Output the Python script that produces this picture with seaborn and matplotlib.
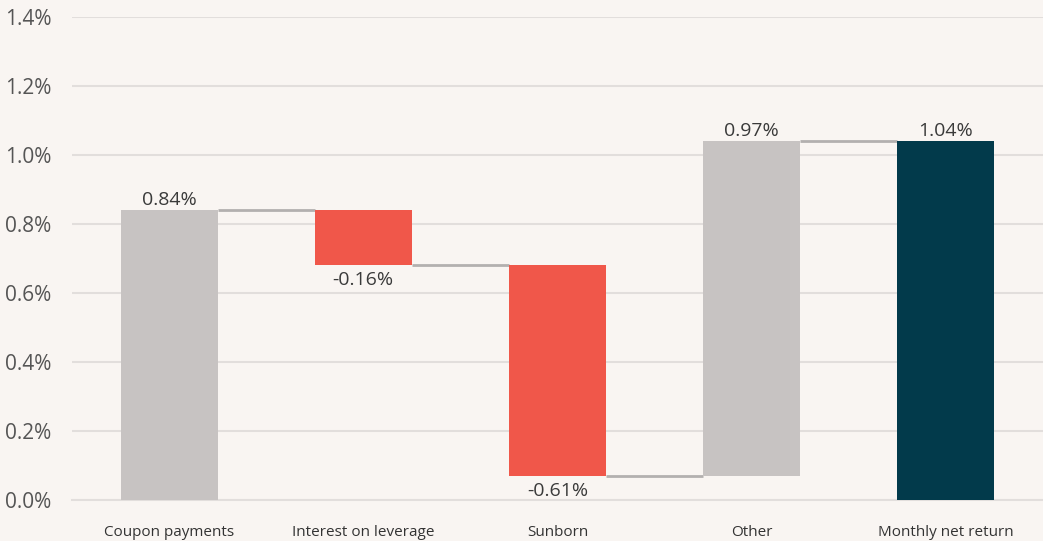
import numpy as np
import pandas as pd
import matplotlib
matplotlib.use("Agg")
import matplotlib.pyplot as plt
import seaborn as sns

categories = ["Coupon payments", "Interest on leverage", "Sunborn", "Other", "Monthly net return"]
changes = [0.84, -0.16, -0.61, 0.97, 1.04]
labels = ["0.84%", "-0.16%", "-0.61%", "0.97%", "1.04%"]
is_total = [False, False, False, False, True]
y_ticks = [0.0, 0.2, 0.4, 0.6, 0.8, 1.0, 1.2, 1.4]

BG = "#F9F5F2"
GREY = "#C7C3C2"
RED = "#F0574A"
DARK = "#023A4B"
GRID = "#E2DEDC"

# running totals for the waterfall
bottoms, tops, colours = [], [], []
running = 0.0
for ch, tot in zip(changes, is_total):
    if tot:
        bottoms.append(0.0)
        tops.append(ch)
        colours.append(DARK)
        running = ch
    else:
        start = running
        running = round(running + ch, 4)
        bottoms.append(min(start, running))
        tops.append(max(start, running))
        colours.append(GREY if ch >= 0 else RED)

df = pd.DataFrame({"category": categories,
                   "height": np.array(tops) - np.array(bottoms),
                   "bottom": bottoms})

sns.set_style("white")
plt.rcParams["font.family"] = ["Open Sans", "DejaVu Sans"]

fig = plt.figure(figsize=(10.43, 5.41), dpi=100, facecolor=BG)
ax = fig.add_axes([0.069, 0.076, 0.931, 0.893])
ax.set_facecolor(BG)

sns.barplot(data=df, x="category", y="height", bottom=df["bottom"].values,
            width=0.5, color=GREY, ax=ax, zorder=3, linewidth=0)
bars = ax.patches
for p, c in zip(bars, colours):
    p.set_facecolor(c)

# connectors between bars
levels = []
running = 0.0
for ch, tot in zip(changes, is_total):
    running = ch if tot else running + ch
    levels.append(running)
for i in range(len(bars) - 1):
    x0 = bars[i].get_x() + bars[i].get_width()
    x1 = bars[i + 1].get_x()
    ax.plot([x0, x1], [levels[i], levels[i]], color="#B3B0AF", lw=2, zorder=2,
            solid_capstyle="butt")

# value labels
for p, ch, lab in zip(bars, changes, labels):
    cx = p.get_x() + p.get_width() / 2
    if ch >= 0:
        ax.text(cx, p.get_y() + p.get_height() + 0.004, lab, ha="center", va="bottom",
                fontsize=14, color="#3A3A3A")
    else:
        ax.text(cx, p.get_y() - 0.018, lab, ha="center", va="top",
                fontsize=14, color="#3A3A3A")

ax.set_ylim(0, 1.4)
ax.set_xlim(-0.5, len(categories) - 0.5)
ax.set_yticks(y_ticks)
ax.set_yticklabels([f"{v:.1f}%" for v in y_ticks], fontsize=15, color="#555555")
ax.yaxis.grid(True, color=GRID, lw=1.5, zorder=0)
ax.set_axisbelow(True)
ax.tick_params(axis="y", length=0, pad=15)

ax.set_xticks(range(len(categories)))
ax.set_xticklabels(categories, fontsize=11, color="#333333")
ax.set_xticks(np.arange(-0.5, len(categories), 1.0), minor=True)
ax.tick_params(axis="x", which="major", length=0, pad=18)
ax.tick_params(axis="x", which="minor", length=8, width=1.5, color=GRID, direction="out")
ax.set_xlabel("")
ax.set_ylabel("")

for s in ["top", "right", "left"]:
    ax.spines[s].set_visible(False)
ax.spines["bottom"].set_color(GRID)
ax.spines["bottom"].set_linewidth(1.5)

fig.savefig("out.png", dpi=100, facecolor=BG)
